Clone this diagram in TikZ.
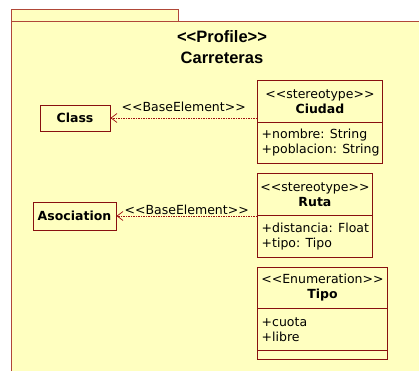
\documentclass[tikz,border=0pt]{standalone}
\usepackage{fontspec}
\setmainfont{DejaVu Sans}
\newfontfamily\titlefont{Liberation Sans}
\usetikzlibrary{arrows.meta}
\definecolor{pkgfill}{RGB}{255,255,192}
\definecolor{pkgline}{RGB}{176,72,56}
\definecolor{boxline}{RGB}{136,16,16}
\definecolor{depline}{RGB}{160,16,16}
\newcommand{\stereo}[1]{<{}<#1>{}>}

\begin{document}
\begin{tikzpicture}[x=1pt,y=-1pt]
\clip (0,0) rectangle (419,370);
% package with its tab
\begin{scope}[fill=pkgfill,draw=pkgline,line width=0.9pt]
    \filldraw (11.5,9.5) rectangle (178,21.5);
    \filldraw (11.5,21.5) rectangle (440,390);
\end{scope}
\node [font=\titlefont\bfseries\fontsize{16.5}{21}\selectfont,align=center]
    (title) at (222,47.4) {\stereo{Profile}\\Carreteras};
% metaclasses
\begin{scope}[every node/.style={rectangle,draw=boxline,line width=0.9pt,
              font=\bfseries\fontsize{12.5}{15}\selectfont,inner sep=0pt}]
    \node [minimum width=70,minimum height=26] (cls) at (75,118) {Class};
    \node [minimum width=83,minimum height=28] (asoc) at (74.5,216) {Asociation};
\end{scope}
% stereotypes and enumeration
\begin{scope}[every node/.style={rectangle,draw=boxline,line width=0.9pt,
              anchor=north west,inner sep=0pt,align=center,
              font=\fontsize{12.5}{15}\selectfont}]
    \node [minimum width=125,minimum height=42] (ciudadHead) at (257,80)
        {\stereo{stereotype}\\\textbf{Ciudad}};
    \node [minimum width=125,minimum height=41] (ciudadAttr) at (257,122) {};
    \node [minimum width=115,minimum height=42] (rutaHead) at (257,173)
        {\stereo{stereotype}\\\textbf{Ruta}};
    \node [minimum width=115,minimum height=42] (rutaAttr) at (257,215) {};
    \node [minimum width=130,minimum height=41] (tipoHead) at (257,267)
        {\stereo{Enumeration}\\\textbf{Tipo}};
    \node [minimum width=130,minimum height=42] (tipoAttr) at (257,308) {};
    \node [minimum width=130,minimum height=9] (tipoOps) at (257,350) {};
\end{scope}
\begin{scope}[every node/.style={anchor=west,align=left,inner xsep=4.5pt,
              font=\fontsize{12.5}{15}\selectfont}]
    \node (ciudadText) at (ciudadAttr.west) {+nombre: String\\+poblacion: String};
    \node (rutaText) at (rutaAttr.west) {+distancia: Float\\+tipo: Tipo};
    \node (tipoText) at (tipoAttr.west) {+cuota\\+libre};
\end{scope}
% base element dependencies
\begin{scope}[>={Straight Barb[length=6pt,width=9pt]},
              every edge/.style={draw=depline,line width=0.7pt,
                                 dash pattern=on 1.5pt off 1pt},
              every node/.style={font=\fontsize{12.5}{15}\selectfont,anchor=base}]
    \path [->] (ciudadHead.west |- cls.east) edge
        node [yshift=6.5pt]{\stereo{BaseElement}} (cls.east);
    \path [->] (rutaHead.west |- asoc.east) edge
        node [yshift=2pt]{\stereo{BaseElement}} (asoc.east);
\end{scope}
\end{tikzpicture}
\end{document}
